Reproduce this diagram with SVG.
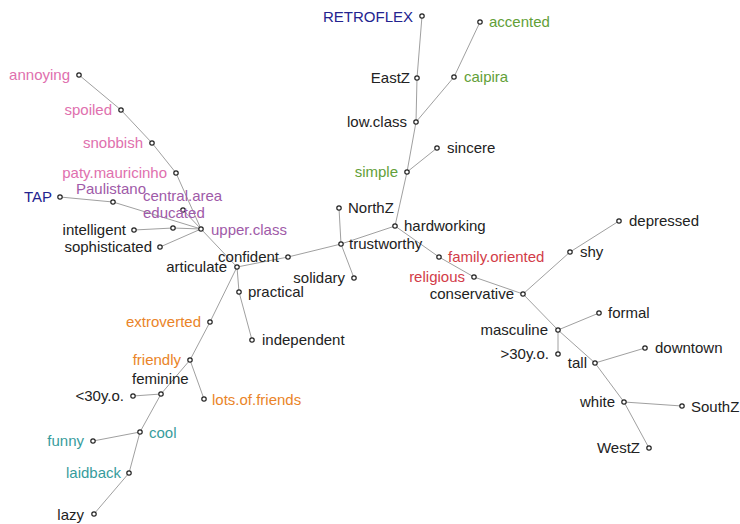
<svg xmlns="http://www.w3.org/2000/svg" width="740" height="524" viewBox="0 0 740 524">
<style>
text{font-family:"Liberation Sans",Arial,sans-serif;font-size:15px;fill:#222}
.l{text-anchor:end}
.pk{fill:#e070ae}.pu{fill:#a05aa8}.bl{fill:#23238f}.gr{fill:#62a038}.rd{fill:#d23c48}.or{fill:#ea8428}.tl{fill:#379c9c}
#edges line{stroke:#a0a0a0;stroke-width:1}
circle{fill:#fff;stroke:#222;stroke-width:1.2}
</style>
<rect width="740" height="524" fill="#fff"/>
<g id="edges">
<line x1="79" y1="75" x2="121" y2="110"/>
<line x1="121" y1="110" x2="152" y2="143"/>
<line x1="152" y1="143" x2="176" y2="173"/>
<line x1="176" y1="173" x2="201" y2="229"/>
<line x1="60" y1="197" x2="113" y2="202"/>
<line x1="113" y1="202" x2="201" y2="229"/>
<line x1="183" y1="210" x2="201" y2="229"/>
<line x1="134" y1="230" x2="173" y2="228"/>
<line x1="173" y1="228" x2="201" y2="229"/>
<line x1="160" y1="247" x2="201" y2="229"/>
<line x1="201" y1="229" x2="237" y2="267"/>
<line x1="237" y1="267" x2="288" y2="257"/>
<line x1="288" y1="257" x2="341" y2="244"/>
<line x1="341" y1="244" x2="339" y2="208"/>
<line x1="341" y1="244" x2="354" y2="278"/>
<line x1="341" y1="244" x2="395" y2="226"/>
<line x1="237" y1="267" x2="239" y2="292"/>
<line x1="239" y1="292" x2="252" y2="340"/>
<line x1="237" y1="267" x2="210" y2="322"/>
<line x1="210" y1="322" x2="190" y2="360"/>
<line x1="190" y1="360" x2="161" y2="394"/>
<line x1="190" y1="360" x2="204" y2="399"/>
<line x1="161" y1="394" x2="133" y2="396"/>
<line x1="161" y1="394" x2="140" y2="432"/>
<line x1="140" y1="432" x2="93" y2="441"/>
<line x1="140" y1="432" x2="129" y2="473"/>
<line x1="129" y1="473" x2="94" y2="514"/>
<line x1="422" y1="16" x2="417" y2="78"/>
<line x1="417" y1="78" x2="416" y2="122"/>
<line x1="480" y1="22" x2="454" y2="77"/>
<line x1="454" y1="77" x2="416" y2="122"/>
<line x1="416" y1="122" x2="407" y2="172"/>
<line x1="407" y1="172" x2="437" y2="148"/>
<line x1="407" y1="172" x2="395" y2="226"/>
<line x1="395" y1="226" x2="439" y2="257"/>
<line x1="439" y1="257" x2="474" y2="277"/>
<line x1="474" y1="277" x2="523" y2="294"/>
<line x1="523" y1="294" x2="570" y2="252"/>
<line x1="570" y1="252" x2="619" y2="221"/>
<line x1="523" y1="294" x2="558" y2="330"/>
<line x1="558" y1="330" x2="599" y2="313"/>
<line x1="558" y1="330" x2="558" y2="354"/>
<line x1="558" y1="330" x2="595" y2="363"/>
<line x1="595" y1="363" x2="645" y2="348"/>
<line x1="595" y1="363" x2="624" y2="402"/>
<line x1="624" y1="402" x2="682" y2="406"/>
<line x1="624" y1="402" x2="649" y2="448"/>
</g>
<g id="n-annoying"><circle cx="79" cy="75" r="2.2"/><text class="l pk" x="70" y="80">annoying</text></g>
<g id="n-spoiled"><circle cx="121" cy="110" r="2.2"/><text class="l pk" x="112" y="115">spoiled</text></g>
<g id="n-snobbish"><circle cx="152" cy="143" r="2.2"/><text class="l pk" x="143" y="148">snobbish</text></g>
<g id="n-paty"><circle cx="176" cy="173" r="2.2"/><text class="l pk" x="167" y="178">paty.mauricinho</text></g>
<g id="n-TAP"><circle cx="60" cy="197" r="2.2"/><text class="l bl" x="52" y="202">TAP</text></g>
<g id="n-Paulistano"><circle cx="113" cy="202" r="2.2"/><text class="pu" x="76" y="194">Paulistano</text></g>
<g id="n-central"><circle cx="183" cy="210" r="2.2"/><text class="pu" x="143" y="201">central.area</text></g>
<g id="n-educated"><circle cx="173" cy="228" r="2.2"/><text class="pu" x="143" y="218">educated</text></g>
<g id="n-intelligent"><circle cx="134" cy="230" r="2.2"/><text class="l" x="126" y="235">intelligent</text></g>
<g id="n-sophisticated"><circle cx="160" cy="247" r="2.2"/><text class="l" x="152" y="252">sophisticated</text></g>
<g id="n-upperclass"><circle cx="201" cy="229" r="2.2"/><text class="pu" x="211" y="235">upper.class</text></g>
<g id="n-articulate"><circle cx="237" cy="267" r="2.2"/><text class="l" x="227" y="272">articulate</text></g>
<g id="n-confident"><circle cx="288" cy="257" r="2.2"/><text class="l" x="279" y="262">confident</text></g>
<g id="n-NorthZ"><circle cx="339" cy="208" r="2.2"/><text x="348" y="213">NorthZ</text></g>
<g id="n-trustworthy"><circle cx="341" cy="244" r="2.2"/><text x="349" y="249">trustworthy</text></g>
<g id="n-solidary"><circle cx="354" cy="278" r="2.2"/><text class="l" x="345" y="283">solidary</text></g>
<g id="n-practical"><circle cx="239" cy="292" r="2.2"/><text x="248" y="297">practical</text></g>
<g id="n-independent"><circle cx="252" cy="340" r="2.2"/><text x="262" y="345">independent</text></g>
<g id="n-extroverted"><circle cx="210" cy="322" r="2.2"/><text class="l or" x="201" y="327">extroverted</text></g>
<g id="n-friendly"><circle cx="190" cy="360" r="2.2"/><text class="l or" x="181" y="365">friendly</text></g>
<g id="n-feminine"><circle cx="161" cy="394" r="2.2"/><text x="132" y="384">feminine</text></g>
<g id="n-under30"><circle cx="133" cy="396" r="2.2"/><text class="l" x="124" y="401">&lt;30y.o.</text></g>
<g id="n-lotsoffriends"><circle cx="204" cy="399" r="2.2"/><text class="or" x="212" y="405">lots.of.friends</text></g>
<g id="n-cool"><circle cx="140" cy="432" r="2.2"/><text class="tl" x="149" y="438">cool</text></g>
<g id="n-funny"><circle cx="93" cy="441" r="2.2"/><text class="l tl" x="84" y="446">funny</text></g>
<g id="n-laidback"><circle cx="129" cy="473" r="2.2"/><text class="l tl" x="121" y="478">laidback</text></g>
<g id="n-lazy"><circle cx="94" cy="514" r="2.2"/><text class="l" x="84" y="520">lazy</text></g>
<g id="n-RETROFLEX"><circle cx="422" cy="16" r="2.2"/><text class="l bl" x="413" y="22">RETROFLEX</text></g>
<g id="n-accented"><circle cx="480" cy="22" r="2.2"/><text class="gr" x="489" y="27">accented</text></g>
<g id="n-EastZ"><circle cx="417" cy="78" r="2.2"/><text class="l" x="410" y="83">EastZ</text></g>
<g id="n-caipira"><circle cx="454" cy="77" r="2.2"/><text class="gr" x="464" y="82">caipira</text></g>
<g id="n-lowclass"><circle cx="416" cy="122" r="2.2"/><text class="l" x="407" y="127">low.class</text></g>
<g id="n-sincere"><circle cx="437" cy="148" r="2.2"/><text x="447" y="153">sincere</text></g>
<g id="n-simple"><circle cx="407" cy="172" r="2.2"/><text class="l gr" x="398" y="177">simple</text></g>
<g id="n-hardworking"><circle cx="395" cy="226" r="2.2"/><text x="404" y="231">hardworking</text></g>
<g id="n-familyoriented"><circle cx="439" cy="257" r="2.2"/><text class="rd" x="448" y="262">family.oriented</text></g>
<g id="n-religious"><circle cx="474" cy="277" r="2.2"/><text class="l rd" x="465" y="282">religious</text></g>
<g id="n-conservative"><circle cx="523" cy="294" r="2.2"/><text class="l" x="514" y="299">conservative</text></g>
<g id="n-shy"><circle cx="570" cy="252" r="2.2"/><text x="580" y="257">shy</text></g>
<g id="n-depressed"><circle cx="619" cy="221" r="2.2"/><text x="629" y="226">depressed</text></g>
<g id="n-masculine"><circle cx="558" cy="330" r="2.2"/><text class="l" x="548" y="335">masculine</text></g>
<g id="n-formal"><circle cx="599" cy="313" r="2.2"/><text x="608" y="318">formal</text></g>
<g id="n-over30"><circle cx="558" cy="354" r="2.2"/><text class="l" x="549" y="359">&gt;30y.o.</text></g>
<g id="n-tall"><circle cx="595" cy="363" r="2.2"/><text class="l" x="587" y="368">tall</text></g>
<g id="n-downtown"><circle cx="645" cy="348" r="2.2"/><text x="655" y="353">downtown</text></g>
<g id="n-white"><circle cx="624" cy="402" r="2.2"/><text class="l" x="615" y="407">white</text></g>
<g id="n-SouthZ"><circle cx="682" cy="406" r="2.2"/><text x="691" y="412">SouthZ</text></g>
<g id="n-WestZ"><circle cx="649" cy="448" r="2.2"/><text class="l" x="640" y="453">WestZ</text></g>
</svg>
